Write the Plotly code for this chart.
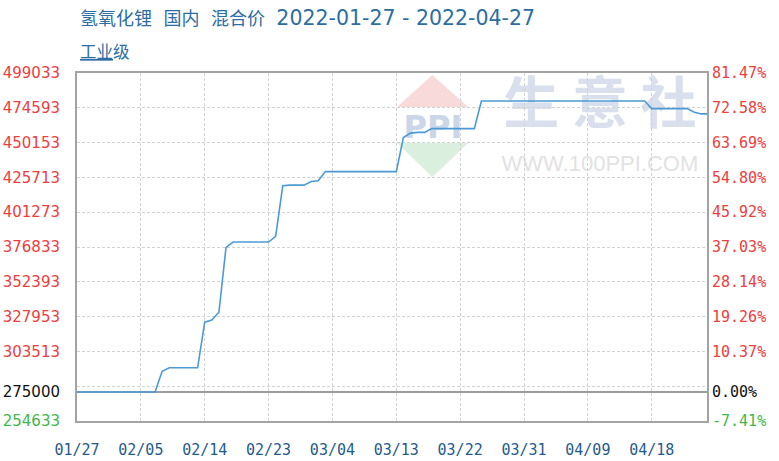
import plotly.graph_objects as go
import pandas as pd

# ---------------- data ----------------
BASE = 275000
DATES = pd.date_range("2022-01-27", "2022-04-27", freq="D")
PRICES = [
    275000, 275000, 275000, 275000, 275000, 275000, 275000, 275000, 275000, 275000,
    275000, 275000, 289500, 292000, 292000, 292000, 292000, 292000, 324000, 325500,
    331000, 376500, 380300, 380300, 380300, 380300, 380300, 380300, 384300, 419800,
    420300, 420300, 420300, 422800, 423300, 429800, 429800, 429800, 429800, 429800,
    429800, 429800, 429800, 429800, 429800, 429800, 453700, 456800, 457300, 457300,
    460000, 460000, 460000, 460000, 460000, 460000, 460000, 479400, 479400, 479400,
    479400, 479400, 479400, 479400, 479400, 479400, 479400, 479400, 479400, 479400,
    479400, 479400, 479400, 479400, 479400, 479400, 479400, 479400, 479400, 479400,
    479400, 474000, 474000, 474000, 474000, 474000, 474000, 471500, 470300, 470300,
    470300,
]
Y_TICKS = [254633, 275000, 303513, 327953, 352393, 376833, 401273, 425713, 450153, 474593, 499033]
GRID_Y = [279073, 303513, 327953, 352393, 376833, 401273, 425713, 450153, 474593]
X_TICKS = ["2022-01-27", "2022-02-05", "2022-02-14", "2022-02-23", "2022-03-04",
           "2022-03-13", "2022-03-22", "2022-03-31", "2022-04-09", "2022-04-18"]
X_LABELS = ["01/27", "02/05", "02/14", "02/23", "03/04", "03/13", "03/22", "03/31", "04/09", "04/18"]
X_RANGE = ["2022-01-27", "2022-04-25 19:00"]

TITLE_PARTS = ["氢氧化锂", "国内", "混合价"]
TITLE_DATES = "2022-01-27 - 2022-04-27"
SUBTITLE_U = "工业"
SUBTITLE_REST = "级"

# ---------------- styling helpers ----------------
RED = "#ee3d3d"
GREEN = "#3fb84a"
BLACK = "#111111"
GRID = "#d2d2d2"
FRAME = "#a3a3a3"


def tick_color(v):
    if v == BASE:
        return BLACK
    return GREEN if v < BASE else RED


def pct(v):
    return (v / BASE - 1) * 100


left_text = [f"<span style='color:{tick_color(v)}'>{v}</span>" for v in Y_TICKS]
right_vals = [pct(v) for v in Y_TICKS]
right_text = [f"<span style='color:{tick_color(v)}'>{pct(v):.2f}%</span>" for v in Y_TICKS]

fig = go.Figure()
fig.add_trace(go.Scatter(
    x=DATES, y=PRICES, mode="lines", yaxis="y",
    line=dict(color="#4a9ad6", width=1.6),
    hoverinfo="skip", showlegend=False,
))
fig.add_trace(go.Scatter(
    x=DATES, y=[pct(p) for p in PRICES], mode="lines", yaxis="y2",
    line=dict(width=0), opacity=0, hoverinfo="skip", showlegend=False,
))
fig.add_trace(go.Scatter(
    x=DATES, y=PRICES, mode="lines", yaxis="y3",
    line=dict(width=0), opacity=0, hoverinfo="skip", showlegend=False,
))

# ---------------- watermark (paper-relative decoration) ----------------
shapes = [
    dict(type="path", xref="paper", yref="paper", layer="below",
         path="M 0.508,0.902 L 0.564,0.994 L 0.621,0.902 Z",
         fillcolor="#f8dada", line=dict(width=0)),
    dict(type="path", xref="paper", yref="paper", layer="below",
         path="M 0.508,0.799 L 0.564,0.701 L 0.621,0.799 Z",
         fillcolor="#daefdd", line=dict(width=0)),
    dict(type="rect", xref="paper", yref="paper", layer="below",
         x0=0.50, x1=0.63, y0=0.80, y1=0.90,
         fillcolor="rgba(0,0,0,0)", line=dict(width=0),
         label=dict(text="PPI", textposition="middle center",
                    font=dict(family="DejaVu Sans", size=32, color="#cbd6e9", weight="bold"))),
    dict(type="rect", xref="paper", yref="paper", layer="below",
         x0=0.66, x1=1.0, y0=0.82, y1=0.98,
         fillcolor="rgba(0,0,0,0)", line=dict(width=0),
         label=dict(text="生 意 社", textposition="middle center",
                    font=dict(family="Noto Sans CJK SC", size=56, color="#d9dfec", weight="bold"))),
    dict(type="rect", xref="paper", yref="paper", layer="below",
         x0=0.66, x1=1.0, y0=0.70, y1=0.79,
         fillcolor="rgba(0,0,0,0)", line=dict(width=0),
         label=dict(text="WWW.100PPI.COM", textposition="middle center",
                    font=dict(family="Liberation Sans", size=22, color="#e2e2e2"))),
]

title_text = "  ".join(TITLE_PARTS) + "  " + f"<span style='font-size:20.5px'>{TITLE_DATES}</span>"

annotations = [
    dict(xref="paper", yref="paper", x=0.0016, y=1.158, xanchor="left", yanchor="middle",
         showarrow=False, text=title_text,
         font=dict(family="DejaVu Sans, Noto Sans CJK SC", size=18, color="#2b6ea3")),
    dict(xref="paper", yref="paper", x=0.0016, y=1.063, xanchor="left", yanchor="middle",
         showarrow=False,
         text=f"<u>{SUBTITLE_U}</u>{SUBTITLE_REST}",
         font=dict(family="Noto Sans CJK SC", size=16.5, color="#2b6ea3")),
]

fig.update_layout(
    width=779, height=461,
    margin=dict(l=77, r=72, t=73, b=40, autoexpand=False),
    paper_bgcolor="white", plot_bgcolor="white",
    showlegend=False,
    hovermode=False,
    shapes=shapes,
    annotations=annotations,
    xaxis=dict(
        type="date", range=X_RANGE, automargin=False,
        tickmode="array", tickvals=X_TICKS, ticktext=X_LABELS,
        showgrid=True, gridcolor=GRID, griddash="3px,2px", gridwidth=1,
        showline=True, linecolor=FRAME, linewidth=2, mirror=True,
        ticks="", zeroline=False, ticklabelstandoff=14,
        tickfont=dict(family="DejaVu Sans Mono", size=15, color="#1f5c8c"),
    ),
    yaxis=dict(
        range=[Y_TICKS[0], Y_TICKS[-1]], automargin=False,
        tickmode="array", tickvals=Y_TICKS, ticktext=left_text,
        showgrid=False, zeroline=False,
        showline=True, linecolor=FRAME, linewidth=2, mirror=True,
        ticks="", ticklabelstandoff=12,
        tickfont=dict(family="DejaVu Sans", size=15),
    ),
    yaxis2=dict(
        overlaying="y", side="right", anchor="x", automargin=False,
        range=[right_vals[0], right_vals[-1]],
        tickmode="array", tickvals=right_vals, ticktext=right_text,
        showgrid=False, zeroline=True, zerolinecolor="#9c9c9c", zerolinewidth=2,
        showline=False, ticks="", ticklabelstandoff=4,
        tickfont=dict(family="DejaVu Sans Mono", size=15),
    ),
    yaxis3=dict(
        overlaying="y", side="left", anchor="x", automargin=False,
        range=[Y_TICKS[0], Y_TICKS[-1]],
        tickmode="array", tickvals=GRID_Y,
        showticklabels=False, showgrid=True, gridcolor=GRID, griddash="3px,2px", gridwidth=1,
        zeroline=False, showline=False, ticks="",
    ),
)

# remove the default 8px page margin so the figure sits at the window's top-left corner
fig.write_html(
    "out.html",
    config={"displayModeBar": False, "staticPlot": True},
    post_script="document.body.style.margin='0';",
)
